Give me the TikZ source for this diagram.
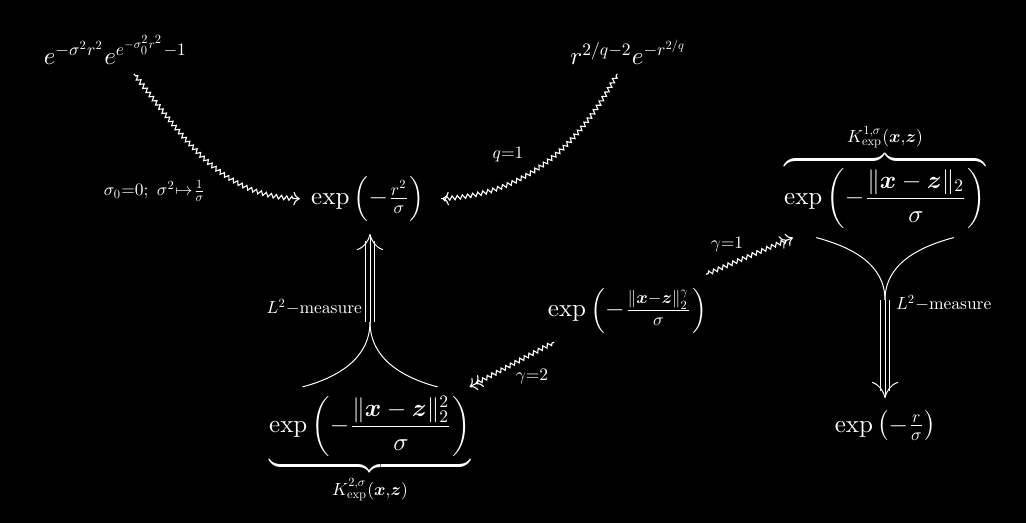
\documentclass[tikz,border=0pt]{standalone}
\usepackage{amsmath,amssymb}
\usepackage{tikz}
\usetikzlibrary{arrows.meta,calc,decorations.pathmorphing}
\DeclareFontShape{OT1}{cmr}{m}{n}{<->cmr10}{}
\DeclareFontShape{OML}{cmm}{m}{it}{<->cmmi10}{}
\DeclareFontShape{OML}{cmm}{b}{it}{<->cmmib10}{}
\DeclareFontShape{OMS}{cmsy}{m}{n}{<->cmsy10}{}
\DeclareFontShape{OMS}{cmsy}{b}{n}{<->cmbsy10}{}
\newcommand{\vx}{\boldsymbol{x}}
\newcommand{\vz}{\boldsymbol{z}}

\begin{document}
\begin{tikzpicture}[color=white,>={Computer Modern Rightarrow},
 every node/.style={anchor=base},
 lbl/.style={inner sep=1pt},
 sq/.style={->,line width=.45pt,decorate,decoration={zigzag,segment length=2.1pt,amplitude=.8pt,pre length=1pt,post length=3pt}},
 sqq/.style={sq,->>},
 tri/.style={shorten >=4.5pt},
 trimid/.style={-{Computer Modern Rightarrow[width=10.5pt,length=6.5pt]},shorten >=1.5pt},
 cusp/.style={line width=.4pt}]
 \fill[black] (0,0) rectangle (410.4pt,209.2pt);
 \useasboundingbox (0,0) rectangle (410.4pt,209.2pt);
 \node (top1) at (46.2pt,183.2pt) {$e^{-\sigma^2r^2}e^{e^{-\sigma_0^2r^2}-1}$};
 \node (top2) at (251.4pt,183.2pt) {$r^{2/q-2}e^{-r^{2/q}}$};
 \node (gauss) at (147.2pt,127.2pt) {$\exp\left(-\frac{r^2}{\sigma}\right)$};
 \node (kone) at (354pt,127.2pt) {$\displaystyle\overbrace{\exp\left(-\frac{\|\vx-\vz\|_2}{\sigma}\right)}^{K^{1,\sigma}_{\exp}(\vx,\vz)}$};
 \node (kgam) at (251pt,82.4pt) {$\exp\left(-\frac{\|\vx-\vz\|_2^\gamma}{\sigma}\right)$};
 \node (ktwo) at (148pt,36pt) {$\displaystyle\underbrace{\exp\left(-\frac{\|\vx-\vz\|_2^2}{\sigma}\right)}_{K^{2,\sigma}_{\exp}(\vx,\vz)}$};
 \node (lap) at (354.2pt,36.4pt) {$\exp\left(-\frac{r}{\sigma}\right)$};
 \node[lbl,anchor=center] (lsig) at (62pt,132.8pt) {$\scriptstyle\sigma_0=0;\ \sigma^2\mapsto\frac{1}{\sigma}$};
 \node[lbl,anchor=center] (lq) at (203.2pt,147.2pt) {$\scriptstyle q=1$};
 \node[lbl,anchor=center] (lg1) at (290.8pt,111.2pt) {$\scriptstyle\gamma=1$};
 \node[lbl,anchor=center] (lg2) at (212.8pt,58.4pt) {$\scriptstyle\gamma=2$};
 \node[lbl,anchor=east] (lm1) at (146pt,86.2pt) {$\scriptstyle L^2-\mathrm{measure}$};
 \node[lbl,anchor=west] (lm2) at (357.2pt,88pt) {$\scriptstyle L^2-\mathrm{measure}$};
 \draw[sq,shorten >=1pt] (top1) to[out=-52,in=180] (gauss);
 \draw[sq,shorten >=3.5pt] (top2) to[out=-118,in=0] (gauss);
 \draw[sqq] ([xshift=-4pt,yshift=2pt]kgam.north east) -- ([xshift=7pt]kone.south west);
 \draw[sqq] ([xshift=6pt]kgam.south west) -- ([xshift=-4pt]ktwo.north east);
 \coordinate (tcusp) at ([yshift=26pt]ktwo.north);
 \coordinate (ttip) at (tcusp |- gauss.south);
 \draw[cusp] ([xshift=-27pt]ktwo.north) to[out=15,in=-90] (tcusp);
 \draw[cusp] ([xshift=27pt]ktwo.north) to[out=165,in=-90] (tcusp);
 \foreach \s in {-1.7pt,1.7pt}
  \draw[tri] ([xshift=\s]tcusp) -- ([xshift=\s]ttip);
 \draw[trimid] (tcusp) -- (ttip);
 \coordinate (ocusp) at ([yshift=-25pt]kone.south);
 \coordinate (otip) at (ocusp |- lap.north);
 \draw[cusp] ([xshift=-27.5pt]kone.south) to[out=-15,in=90] (ocusp);
 \draw[cusp] ([xshift=27.5pt]kone.south) to[out=195,in=90] (ocusp);
 \foreach \s in {-1.7pt,1.7pt}
  \draw[tri] ([xshift=\s]ocusp) -- ([xshift=\s]otip);
 \draw[trimid] (ocusp) -- (otip);
\end{tikzpicture}
\end{document}
